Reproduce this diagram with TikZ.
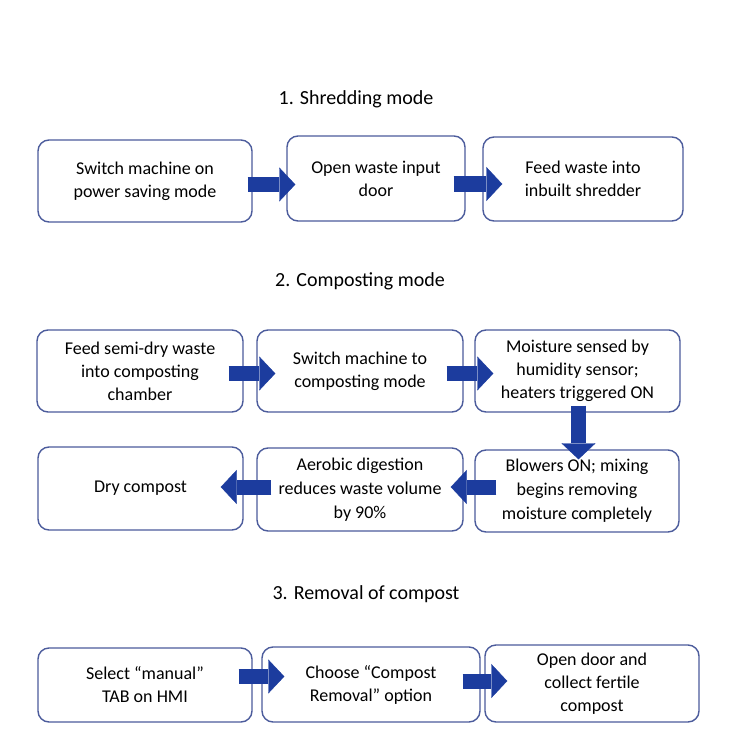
\documentclass[tikz,border=0pt]{standalone}
\usepackage{fontspec}
\setmainfont{Carlito}
\usetikzlibrary{calc,arrows.meta}
\definecolor{boxedge}{RGB}{76,92,156}
\definecolor{arrowblue}{RGB}{28,60,158}
\tikzset{
  stepbox/.style={draw=boxedge, line width=1.4pt, rounded corners=11pt, fill=white,
    align=center, font=\fontsize{18}{23}\selectfont, inner sep=0pt},
  bigarrow/.style={draw=arrowblue, line width=15pt,
    -{Triangle[length=16pt,width=34pt,line width=0.4pt]}},
  titletext/.style={font=\fontsize{20}{24}\selectfont, inner sep=0pt}
}
\begin{document}
\begin{tikzpicture}[x=1pt,y=-1pt]
\useasboundingbox[fill=white] (0,0) rectangle (735,754);

% titles
\node[titletext] (t1) at (356,99) {1. Shredding mode};
\node[titletext] (t2) at (360,281) {2. Composting mode};
\node[titletext] (t3) at (366,594) {3. Removal of compost};

% row 1
\node[stepbox, minimum width=214pt, minimum height=82pt] (a1) at (145,181) {Switch machine on\\power saving mode};
\node[stepbox, minimum width=178pt, minimum height=85pt] (a2) at (376,178.5) {Open waste input\\door};
\node[stepbox, minimum width=200pt, minimum height=84pt] (a3) at (583,179) {Feed waste into\\inbuilt shredder};

% row 2
\node[stepbox, minimum width=206pt, minimum height=82pt] (b1) at (140,371) {Feed semi-dry waste\\into composting\\chamber};
\node[stepbox, minimum width=206pt, minimum height=82pt] (b2) at (360,371) {Switch machine to\\composting mode};
\node[stepbox, minimum width=205pt, minimum height=82pt] (b3) at (577.5,371) {Moisture sensed by\\humidity sensor;\\heaters triggered ON};

% row 2b
\node[stepbox, minimum width=205pt, minimum height=83pt] (c1) at (140.5,488.5) {Dry compost};
\node[stepbox, minimum width=206pt, minimum height=83pt, font=\fontsize{18}{24}\selectfont] (c2) at (360,489.5) {Aerobic digestion\\reduces waste volume\\by 90\%};
\node[stepbox, minimum width=204pt, minimum height=82pt, font=\fontsize{18}{24}\selectfont] (c3) at (577,491) {Blowers ON; mixing\\begins removing\\moisture completely};

% row 3
\node[stepbox, minimum width=214pt, minimum height=74pt] (d1) at (145,685) {Select “manual”\\TAB on HMI};
\node[stepbox, minimum width=218pt, minimum height=75pt] (d2) at (371,684.5) {Choose “Compost\\Removal” option};
\node[stepbox, minimum width=214pt, minimum height=77pt] (d3) at (592,683.5) {Open door and\\collect fertile\\compost};

% arrows row 1
\draw[bigarrow] ($(a1.east)+(-5,3.5)$) -- ($(a1.east -| a2.west)+(9,3.5)$);
\draw[bigarrow] ($(a2.east)+(-12,5.5)$) -- ($(a2.east -| a3.west)+(20,5.5)$);

% arrows row 2
\draw[bigarrow] ($(b1.east)+(-15,2.5)$) -- ($(b1.east -| b2.west)+(19,2.5)$);
\draw[bigarrow] ($(b2.east)+(-17,2.5)$) -- ($(b2.east -| b3.west)+(19,2.5)$);
\draw[bigarrow] ($(b3.south)+(1,-7)$) -- ($(b3.south |- c3.north)+(1,10)$);
\draw[bigarrow] ($(c3.west)+(22,-4)$) -- ($(c3.west -| c2.east)+(-13,-4)$);
\draw[bigarrow] ($(c2.west)+(15,-2.5)$) -- ($(c2.west -| c1.east)+(-23,-2.5)$);

% arrows row 3
\draw[bigarrow] ($(d1.east)+(-14,-8.5)$) -- ($(d1.east -| d2.west)+(23,-8.5)$);
\draw[bigarrow] ($(d2.east)+(-18,-3.5)$) -- ($(d2.east -| d3.west)+(23,-3.5)$);
\end{tikzpicture}
\end{document}
